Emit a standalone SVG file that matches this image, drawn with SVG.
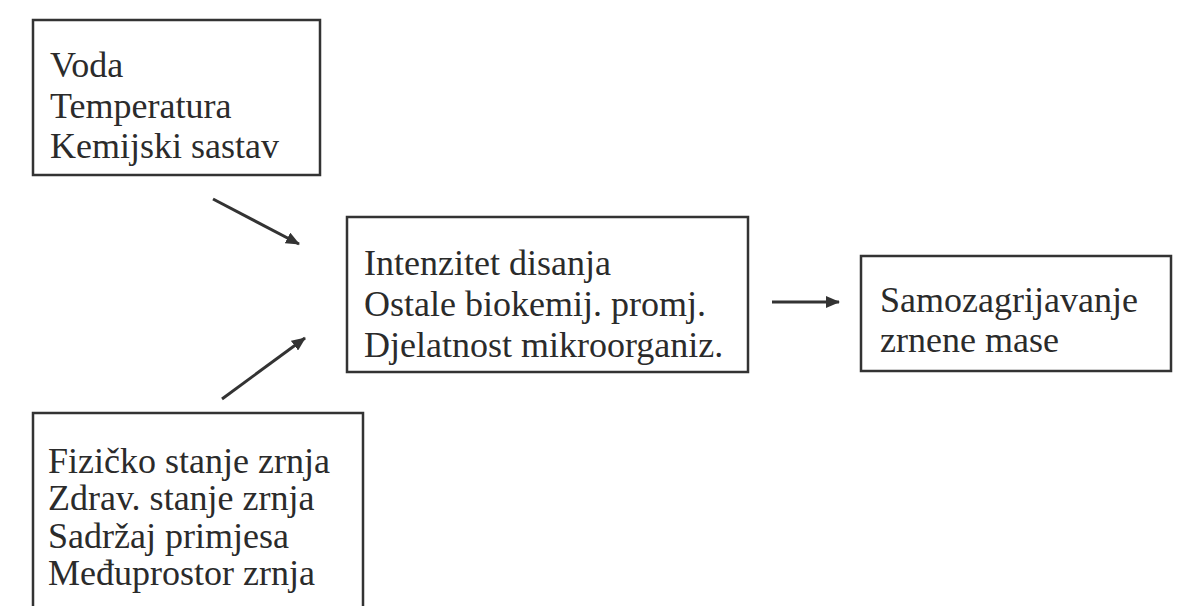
<svg xmlns="http://www.w3.org/2000/svg" width="1203" height="606" viewBox="0 0 1203 606">
  <style>
    .box { fill: none; stroke: #333; stroke-width: 2.5; }
    .txt { font-family: 'Liberation Serif', Tinos, 'Times New Roman', 'DejaVu Serif', serif; font-size: 36px; fill: #2b2b2b; }
    .conn { stroke: #333; stroke-width: 3; fill: none; marker-end: url(#arr); }
  </style>
  <defs>
    <marker id="arr" markerUnits="userSpaceOnUse" markerWidth="14" markerHeight="12" refX="13" refY="6" orient="auto">
      <path d="M0,0 L14,6 L0,12 Z" fill="#333"/>
    </marker>
  </defs>
  <rect width="1203" height="606" fill="#fff"/>
  <g id="node-factors1">
    <rect class="box" x="33" y="20" width="287" height="155"/>
    <text class="txt" x="50" y="77">Voda</text>
    <text class="txt" x="50" y="118">Temperatura</text>
    <text class="txt" x="50" y="158">Kemijski sastav</text>
  </g>
  <g id="node-factors2">
    <rect class="box" x="33" y="413" width="330" height="210"/>
    <text class="txt" x="48" y="473">Fizičko stanje zrnja</text>
    <text class="txt" x="48" y="510">Zdrav. stanje zrnja</text>
    <text class="txt" x="48" y="548">Sadržaj primjesa</text>
    <text class="txt" x="48" y="585">Međuprostor zrnja</text>
  </g>
  <g id="node-processes">
    <rect class="box" x="347" y="217" width="401" height="155"/>
    <text class="txt" x="364" y="275">Intenzitet disanja</text>
    <text class="txt" x="364" y="316">Ostale biokemij. promj.</text>
    <text class="txt" x="364" y="357">Djelatnost mikroorganiz.</text>
  </g>
  <g id="node-result">
    <rect class="box" x="861" y="256" width="310" height="115"/>
    <text class="txt" x="880" y="312">Samozagrijavanje</text>
    <text class="txt" x="880" y="352">zrnene mase</text>
  </g>
  <g id="connectors">
    <line class="conn" x1="213" y1="199" x2="299" y2="244"/>
    <line class="conn" x1="222" y1="399" x2="305" y2="338"/>
    <line class="conn" x1="772" y1="302" x2="839" y2="302"/>
  </g>
</svg>
